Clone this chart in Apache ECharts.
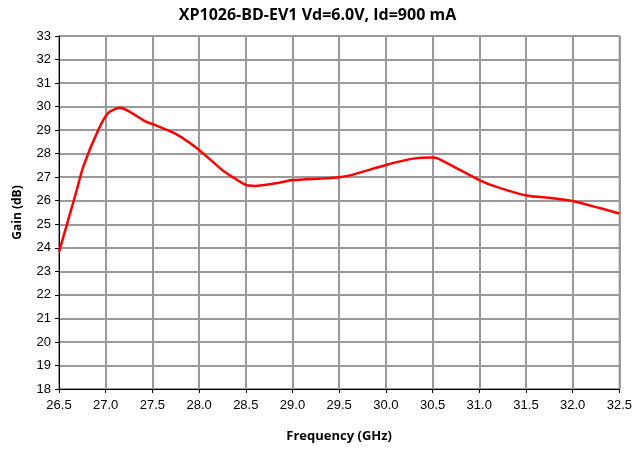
<!DOCTYPE html>
<html><head><meta charset="utf-8">
<script src="https://cdn.jsdelivr.net/npm/echarts@6/dist/echarts.min.js"></script>
<style>html,body{margin:0;padding:0;background:#fff}#c{width:635px;height:449px}</style>
</head><body><div id="c"></div>
<script>
var titleText = "XP1026-BD-EV1 Vd=6.0V, Id=900 mA";
var xName = "Frequency (GHz)";
var yName = "Gain (dB)";
var freq = [26.5, 26.67, 26.76, 26.92, 27.03, 27.15, 27.26, 27.43, 27.5, 27.75, 28.0, 28.25, 28.5, 28.6, 28.82, 29.0, 29.35, 29.5, 29.64, 30.0, 30.31, 30.49, 30.56, 31.0, 31.2, 31.52, 31.77, 32.0, 32.5];
var gain = [23.83, 26.17, 27.45, 29.0, 29.74, 29.95, 29.78, 29.36, 29.26, 28.84, 28.16, 27.3, 26.67, 26.63, 26.74, 26.88, 26.95, 27.0, 27.1, 27.52, 27.8, 27.84, 27.79, 26.88, 26.57, 26.21, 26.12, 25.99, 25.46];
var data = freq.map(function(f, i){ return [f, gain[i]]; });
var chart = echarts.init(document.getElementById('c'), null, {renderer: 'canvas'});
chart.setOption({
  animation: false,
  backgroundColor: '#fff',
  title: {text: titleText, left: 'center', top: 2,
    textStyle: {fontFamily: 'Open Sans', fontWeight: 'bold', fontSize: 16, color: '#000'}},
  grid: {left: 59, right: 13, top: 36, bottom: 60, show: true, borderColor: '#000', borderWidth: 1},
  xAxis: {type: 'value', min: 26.5, max: 32.5, interval: 0.5,
    name: xName, nameLocation: 'middle', nameGap: 41,
    nameTextStyle: {fontFamily: 'Open Sans', fontWeight: 'bold', fontSize: 13, color: '#000'},
    axisLine: {lineStyle: {color: '#000', width: 1}},
    axisTick: {show: true, length: 4, inside: false, lineStyle: {color: '#000'}},
    axisLabel: {margin: 10, fontFamily: 'Liberation Sans', fontSize: 13, color: '#000',
      formatter: function(v){ return v.toFixed(1); }},
    splitLine: {show: true, lineStyle: {color: '#9a9a9a', width: 2}}},
  yAxis: {type: 'value', min: 18, max: 33, interval: 1,
    name: yName, nameLocation: 'middle', nameGap: 35, nameRotate: 90,
    nameTextStyle: {fontFamily: 'Open Sans', fontWeight: 'bold', fontSize: 12, color: '#000'},
    axisLine: {show: true, lineStyle: {color: '#000', width: 1}},
    axisTick: {show: true, length: 4, lineStyle: {color: '#000'}},
    axisLabel: {margin: 8, fontFamily: 'Liberation Sans', fontSize: 13, color: '#000'},
    splitLine: {show: true, lineStyle: {color: '#9a9a9a', width: 2}}},
  series: [{type: 'line', data: data, smooth: 0.2, showSymbol: false,
    lineStyle: {color: '#ff0000', width: 2.5}}]
});
</script></body></html>
